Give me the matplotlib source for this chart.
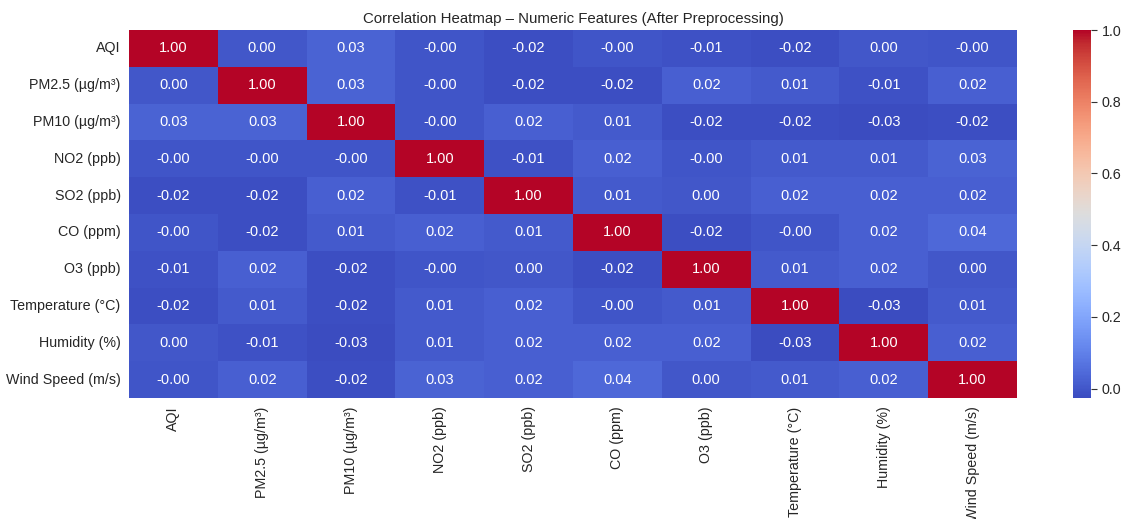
import numpy as np
import pandas as pd
import matplotlib
matplotlib.use("Agg")
import matplotlib.pyplot as plt
import seaborn as sns

# feature names (rows and columns of the matrix)
features = ["AQI", "PM2.5 (µg/m³)", "PM10 (µg/m³)", "NO2 (ppb)", "SO2 (ppb)",
            "CO (ppm)", "O3 (ppb)", "Temperature (°C)", "Humidity (%)", "Wind Speed (m/s)"]

# correlation values, one row per feature
aqi      = [1.00, 0.002, 0.03, -0.002, -0.02, -0.002, -0.01, -0.02, 0.002, -0.002]
pm25     = [0.002, 1.00, 0.03, -0.002, -0.02, -0.02, 0.02, 0.01, -0.01, 0.02]
pm10     = [0.03, 0.03, 1.00, -0.002, 0.02, 0.01, -0.02, -0.02, -0.026, -0.02]
no2      = [-0.002, -0.002, -0.002, 1.00, -0.01, 0.02, -0.002, 0.01, 0.01, 0.03]
so2      = [-0.02, -0.02, 0.02, -0.01, 1.00, 0.01, 0.002, 0.02, 0.02, 0.02]
co       = [-0.002, -0.02, 0.01, 0.02, 0.01, 1.00, -0.02, -0.002, 0.02, 0.04]
o3       = [-0.01, 0.02, -0.02, -0.002, 0.002, -0.02, 1.00, 0.01, 0.02, 0.002]
temp     = [-0.02, 0.01, -0.02, 0.01, 0.02, -0.002, 0.01, 1.00, -0.026, 0.01]
humidity = [0.002, -0.01, -0.026, 0.01, 0.02, 0.02, 0.02, -0.026, 1.00, 0.02]
wind     = [-0.002, 0.02, -0.02, 0.03, 0.02, 0.04, 0.002, 0.01, 0.02, 1.00]

corr = pd.DataFrame([aqi, pm25, pm10, no2, so2, co, o3, temp, humidity, wind],
                    index=features, columns=features)

sns.set_theme(style="white")
plt.rcParams["font.family"] = ["Liberation Sans", "DejaVu Sans"]

fig = plt.figure(figsize=(11.25, 5.19), dpi=100)
ax = fig.add_axes([129 / 1125, 1 - 398 / 519, 888 / 1125, 368 / 519])
cax = fig.add_axes([1073 / 1125, 1 - 398 / 519, 18 / 1125, 368 / 519])

sns.heatmap(corr, annot=True, fmt=".2f", cmap="coolwarm", ax=ax, cbar_ax=cax,
            annot_kws={"fontsize": 10.5})
ax.set_title("Correlation Heatmap – Numeric Features (After Preprocessing)", fontsize=10.8, pad=5)
ax.tick_params(axis="both", length=0, labelsize=10.3, pad=6)
ax.set_xticklabels(ax.get_xticklabels(), rotation=90)
ax.set_yticklabels(ax.get_yticklabels(), rotation=0)
cax.tick_params(labelsize=10.3, length=4, width=0.8, color="#333333")

fig.savefig("out.png", dpi=100)
